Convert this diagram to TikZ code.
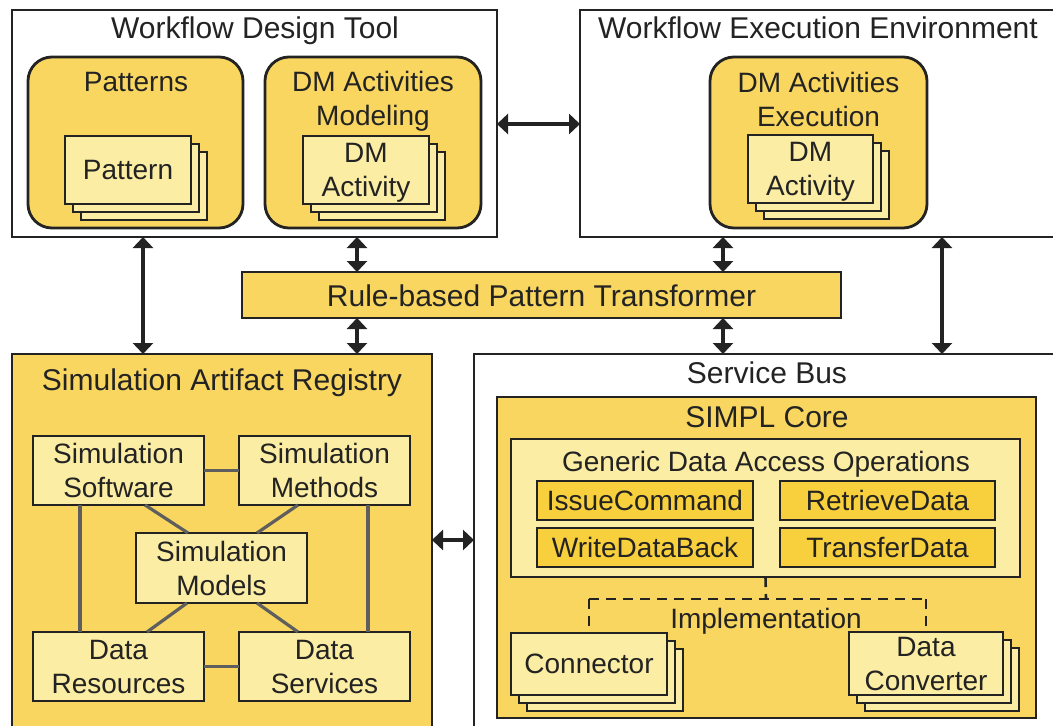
\documentclass[tikz,border=0pt]{standalone}
\usepackage{fontspec}
\setmainfont{Liberation Sans}
\usetikzlibrary{arrows.meta}

\definecolor{ymain}{HTML}{F8D660}
\definecolor{ylight}{HTML}{FBEDA3}
\definecolor{yop}{HTML}{F8CF3C}
\definecolor{ink}{HTML}{232323}
\definecolor{linkgray}{HTML}{5E5E5E}

\tikzset{
  frame/.style={draw=ink, line width=2.8pt, inner sep=0pt, outer sep=0pt},
  container/.style={frame, fill=white},
  yellowbox/.style={frame, fill=ymain},
  roundbox/.style={frame, fill=ymain, rounded corners=24pt},
  card/.style={frame, fill=ylight, text=ink, font=\smalltext, align=center, text depth=0pt},
  opbox/.style={frame, fill=yop, text=ink, font=\smalltext, align=center, text depth=0pt},
  title/.style={text=ink, font=\bigtext, inner sep=0pt, align=center, text depth=0pt},
  subtitle/.style={text=ink, font=\smalltext, inner sep=0pt, align=center, text depth=0pt},
  dbl/.style={draw=ink, line width=3.4pt,
    {Triangle[length=11pt,width=20pt]}-{Triangle[length=11pt,width=20pt]}},
  assoc/.style={draw=linkgray, line width=3.2pt},
  impl/.style={draw=ink, line width=2.6pt, dash pattern=on 10pt off 7pt}
}
\newcommand\bigtext{\fontsize{30}{34}\selectfont}
\newcommand\smalltext{\fontsize{28}{34}\selectfont}

% rectangular node from its corners: style, name, x1, y1, x2, y2, text
\newcommand\boxat[7]{%
  \node[#1, minimum width={#5-#3}, minimum height={#6-#4}] (#2)
    at ({(#3+#5)/2},{(#4+#6)/2}) {#7};}
% stack of three cards, the front one named: name, x1, y1, x2, y2, text
\newcommand\stackat[6]{%
  \draw[card] (#2+16,#3+16) rectangle (#4+16,#5+16);
  \draw[card] (#2+8,#3+8) rectangle (#4+8,#5+8);
  \boxat{card}{#1}{#2}{#3}{#4}{#5}{#6}}

\begin{document}
\begin{tikzpicture}[x=1pt,y=-1pt]
\useasboundingbox (0,0) rectangle (1053,726);
\clip (0,0) rectangle (1053,726);
\fill[white] (0,0) rectangle (1053,726);

% ---- Workflow Design Tool
\boxat{container}{wdt}{12}{10}{497}{237}{}
\node[title] (wdtT) at (255,28) {Workflow Design Tool};
\boxat{roundbox}{pat}{28}{57}{243}{228}{}
\node[subtitle] (patT) at (136,82) {Patterns};
\stackat{pattern}{65}{136}{191}{204}{Pattern}
\boxat{roundbox}{dmm}{265}{57}{481}{228}{}
\node[subtitle] (dmmT) at (373,98) {DM Activities\\Modeling};
\stackat{dma}{303}{136}{429}{204}{DM\\Activity}

% ---- Workflow Execution Environment
\boxat{container}{wee}{580}{10}{1090}{237}{}
\node[title] (weeT) at (818,28) {Workflow Execution Environment};
\boxat{roundbox}{dme}{710}{57}{927}{228}{}
\node[subtitle] (dmeT) at (818.5,99) {DM Activities\\Execution};
\stackat{dmb}{748}{135}{873}{203}{DM\\Activity}

% ---- Rule-based Pattern Transformer
\boxat{yellowbox}{rpt}{242}{272}{841}{318}{}
\node[title] (rptT) at (541.5,296) {Rule-based Pattern Transformer};

% ---- Simulation Artifact Registry
\boxat{yellowbox}{sar}{12}{354}{432}{770}{}
\node[title] (sarT) at (222,380) {Simulation Artifact Registry};
\boxat{card}{ssw}{33}{436}{204}{505}{Simulation\\Software}
\boxat{card}{smt}{239}{436}{410}{505}{Simulation\\Methods}
\boxat{card}{smd}{136}{533}{307}{603}{Simulation\\Models}
\boxat{card}{drs}{33}{632}{204}{701}{Data\\Resources}
\boxat{card}{dsv}{239}{632}{410}{701}{Data\\Services}
\draw[assoc] (ssw.east) -- (smt.west);
\draw[assoc] (drs.east) -- (dsv.west);
\draw[assoc] (ssw.south -| 80,0) -- (drs.north -| 80,0);
\draw[assoc] (smt.south -| 368,0) -- (dsv.north -| 368,0);
\draw[assoc] (ssw.south -| 145,0) -- (smd.north -| 188,0);
\draw[assoc] (smt.south -| 298,0) -- (smd.north -| 257,0);
\draw[assoc] (smd.south -| 187,0) -- (drs.north -| 147,0);
\draw[assoc] (smd.south -| 257,0) -- (dsv.north -| 298,0);

% ---- Service Bus
\boxat{container}{sb}{474}{354}{1090}{770}{}
\node[title] (sbT) at (767,373) {Service Bus};
\boxat{yellowbox}{core}{497}{397}{1036}{718}{}
\node[title] (coreT) at (767,417) {SIMPL Core};
\boxat{card}{gdao}{511}{439}{1020}{577}{}
\node[subtitle] (gdaoT) at (766,461) {Generic Data Access Operations};
\boxat{opbox}{issue}{537}{481}{753}{520}{IssueCommand}
\boxat{opbox}{write}{537}{528}{753}{567}{WriteDataBack}
\boxat{opbox}{retr}{780}{481}{995}{520}{RetrieveData}
\boxat{opbox}{trans}{780}{528}{995}{567}{TransferData}
\stackat{conn}{511}{633}{667}{695}{Connector}
\stackat{conv}{849}{632}{1003}{695}{Data\\Converter}
\node[subtitle] (implT) at (766,618) {Implementation};
\coordinate (split) at (766,599);
\coordinate (implL) at (589,599);
\coordinate (implR) at (926,599);
\draw[impl] (gdao.south) -- (split);
\draw[impl] (implL) -- (implR);
\draw[impl] (implL) -- (conn.north -| implL);
\draw[impl] (implR) -- (conv.north -| implR);

% ---- interactions
\coordinate (ax1) at (143,0);
\coordinate (ax2) at (357,0);
\coordinate (ax3) at (723,0);
\coordinate (ax4) at (942,0);
\coordinate (ay1) at (0,124);
\coordinate (ay2) at (0,540);
\draw[dbl] (wdt.east |- ay1) -- (wee.west |- ay1);
\draw[dbl] (wdt.south -| ax1) -- (sar.north -| ax1);
\draw[dbl] (wdt.south -| ax2) -- (rpt.north -| ax2);
\draw[dbl] (rpt.south -| ax2) -- (sar.north -| ax2);
\draw[dbl] (wee.south -| ax3) -- (rpt.north -| ax3);
\draw[dbl] (rpt.south -| ax3) -- (sb.north -| ax3);
\draw[dbl] (wee.south -| ax4) -- (sb.north -| ax4);
\draw[dbl] (sar.east |- ay2) -- (sb.west |- ay2);
\end{tikzpicture}
\end{document}
